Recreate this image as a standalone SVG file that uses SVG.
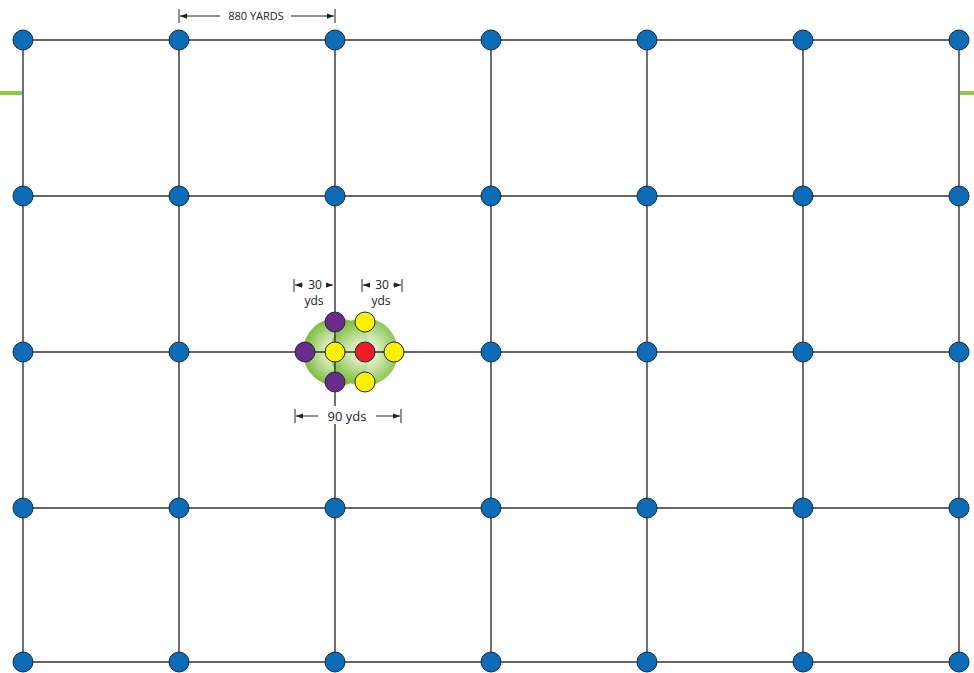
<svg xmlns="http://www.w3.org/2000/svg" width="974" height="673" viewBox="0 0 974 673">
<style>
.grid line{stroke:#333;stroke-width:1.4}
.node{stroke:#1d2a3a;stroke-width:1}
.blue{fill:#0b6cb8}
.purple{fill:#6a2c8c}
.yellow{fill:#ffef00}
.red{fill:#ed1c24}
.dim{stroke:#222;stroke-width:1;fill:none}
.lbl{font-family:"Open Sans","Liberation Sans",sans-serif;fill:#222}
</style>
<defs>
<radialGradient id="g" cx="0.5" cy="0.5" r="0.5">
<stop offset="0" stop-color="#ffffff"/>
<stop offset="0.35" stop-color="#d9ecbf"/>
<stop offset="1" stop-color="#7cbd3a"/>
</radialGradient>
<marker id="ah" viewBox="0 0 8 8" refX="8" refY="4" markerWidth="7" markerHeight="7" orient="auto-start-reverse" markerUnits="userSpaceOnUse">
<path d="M0,1 L8,4 L0,7 z" fill="#222"/>
</marker>
</defs>
<rect width="974" height="673" fill="#fff"/>
<line x1="0" y1="93" x2="22" y2="93" stroke="#8dc63f" stroke-width="4"/>
<line x1="960" y1="93" x2="974" y2="93" stroke="#8dc63f" stroke-width="4"/>
<g id="connectors" class="grid">
<line x1="23" y1="40" x2="959" y2="40"/>
<line x1="23" y1="196" x2="959" y2="196"/>
<line x1="23" y1="352" x2="959" y2="352"/>
<line x1="23" y1="508" x2="959" y2="508"/>
<line x1="23" y1="662" x2="959" y2="662"/>
<line x1="23" y1="40" x2="23" y2="662"/>
<line x1="179" y1="40" x2="179" y2="662"/>
<line x1="335" y1="40" x2="335" y2="662"/>
<line x1="491" y1="40" x2="491" y2="662"/>
<line x1="647" y1="40" x2="647" y2="662"/>
<line x1="803" y1="40" x2="803" y2="662"/>
<line x1="959" y1="40" x2="959" y2="662"/>
</g>
<g id="zone">
<circle cx="337" cy="352" r="34" fill="url(#g)"/>
<circle cx="364" cy="352" r="34" fill="url(#g)" opacity="0.85"/>
<line x1="303" y1="352" x2="398" y2="352" stroke="#333" stroke-width="1.4"/>
<line x1="335" y1="318" x2="335" y2="386" stroke="#333" stroke-width="1.4"/>
</g>
<g id="nodes">
<g id="n-r0"><circle class="node blue" cx="23" cy="40" r="10"/><circle class="node blue" cx="179" cy="40" r="10"/><circle class="node blue" cx="335" cy="40" r="10"/><circle class="node blue" cx="491" cy="40" r="10"/><circle class="node blue" cx="647" cy="40" r="10"/><circle class="node blue" cx="803" cy="40" r="10"/><circle class="node blue" cx="959" cy="40" r="10"/></g>
<g id="n-r1"><circle class="node blue" cx="23" cy="196" r="10"/><circle class="node blue" cx="179" cy="196" r="10"/><circle class="node blue" cx="335" cy="196" r="10"/><circle class="node blue" cx="491" cy="196" r="10"/><circle class="node blue" cx="647" cy="196" r="10"/><circle class="node blue" cx="803" cy="196" r="10"/><circle class="node blue" cx="959" cy="196" r="10"/></g>
<g id="n-r2"><circle class="node blue" cx="23" cy="352" r="10"/><circle class="node blue" cx="179" cy="352" r="10"/><circle class="node blue" cx="491" cy="352" r="10"/><circle class="node blue" cx="647" cy="352" r="10"/><circle class="node blue" cx="803" cy="352" r="10"/><circle class="node blue" cx="959" cy="352" r="10"/></g>
<g id="n-r3"><circle class="node blue" cx="23" cy="508" r="10"/><circle class="node blue" cx="179" cy="508" r="10"/><circle class="node blue" cx="335" cy="508" r="10"/><circle class="node blue" cx="491" cy="508" r="10"/><circle class="node blue" cx="647" cy="508" r="10"/><circle class="node blue" cx="803" cy="508" r="10"/><circle class="node blue" cx="959" cy="508" r="10"/></g>
<g id="n-r4"><circle class="node blue" cx="23" cy="662" r="10"/><circle class="node blue" cx="179" cy="662" r="10"/><circle class="node blue" cx="335" cy="662" r="10"/><circle class="node blue" cx="491" cy="662" r="10"/><circle class="node blue" cx="647" cy="662" r="10"/><circle class="node blue" cx="803" cy="662" r="10"/><circle class="node blue" cx="959" cy="662" r="10"/></g>
<g id="n-cluster">
<circle class="node purple" cx="335" cy="322" r="10"/>
<circle class="node purple" cx="305" cy="352" r="10"/>
<circle class="node purple" cx="335" cy="382" r="10"/>
<circle class="node yellow" cx="335" cy="352" r="10"/>
<circle class="node yellow" cx="365" cy="322" r="10"/>
<circle class="node yellow" cx="394" cy="352" r="10"/>
<circle class="node yellow" cx="365" cy="382" r="10"/>
<circle class="node red" cx="365" cy="352" r="10"/>
</g>
</g>
<g id="dimensions">
<line class="dim" x1="179" y1="9" x2="179" y2="23"/>
<line class="dim" x1="335" y1="9" x2="335" y2="23"/>
<line class="dim" x1="180" y1="16" x2="220" y2="16" marker-start="url(#ah)"/>
<line class="dim" x1="291" y1="16" x2="334" y2="16" marker-end="url(#ah)"/>
<text class="lbl" x="256" y="20" font-size="11" text-anchor="middle">880 YARDS</text>
<line class="dim" x1="294" y1="279" x2="294" y2="292"/>
<line class="dim" x1="295" y1="285" x2="303" y2="285" marker-start="url(#ah)"/>
<line class="dim" x1="327" y1="285" x2="333" y2="285" marker-end="url(#ah)"/>
<text class="lbl" x="315" y="289" font-size="12" text-anchor="middle">30</text>
<text class="lbl" x="314" y="305" font-size="12" text-anchor="middle">yds</text>
<line class="dim" x1="362" y1="279" x2="362" y2="292"/>
<line class="dim" x1="402" y1="279" x2="402" y2="292"/>
<line class="dim" x1="363" y1="285" x2="370" y2="285" marker-start="url(#ah)"/>
<line class="dim" x1="393" y1="285" x2="401" y2="285" marker-end="url(#ah)"/>
<text class="lbl" x="382" y="289" font-size="12" text-anchor="middle">30</text>
<text class="lbl" x="381" y="305" font-size="12" text-anchor="middle">yds</text>
<line class="dim" x1="295" y1="409" x2="295" y2="423"/>
<line class="dim" x1="401" y1="409" x2="401" y2="423"/>
<line class="dim" x1="296" y1="416" x2="318" y2="416" marker-start="url(#ah)"/>
<line class="dim" x1="376" y1="416" x2="400" y2="416" marker-end="url(#ah)"/>
<rect x="322" y="406" width="50" height="18" fill="#fff"/>
<text class="lbl" x="347" y="421" font-size="13" text-anchor="middle">90 yds</text>
</g>
</svg>
